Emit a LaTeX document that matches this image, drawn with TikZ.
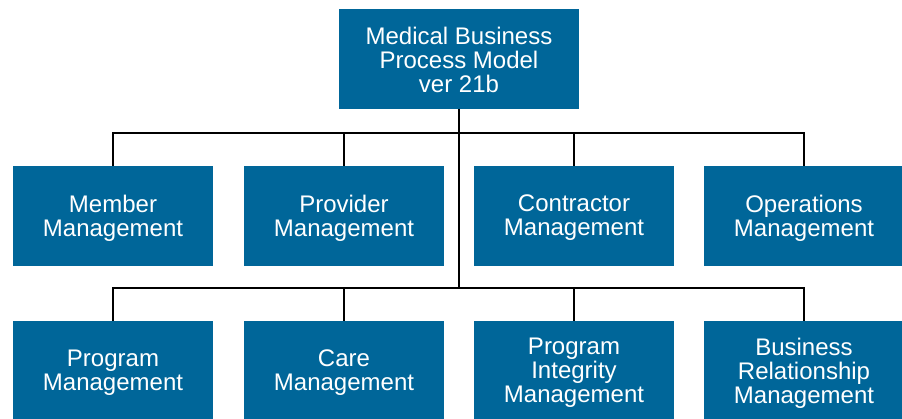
\documentclass[tikz,border=0pt]{standalone}
\usepackage{fontspec}
\setmainfont{Liberation Sans}
\definecolor{boxblue}{RGB}{0,102,153}
\begin{document}
\begin{tikzpicture}[x=1pt,y=-1pt,
  bx/.style={fill=boxblue,draw=none,inner sep=0pt,
    minimum width=200pt,minimum height=100pt},
  lbl/.style={text=white,align=center,inner sep=0pt,yshift=-2pt,
    font=\fontsize{24}{24}\selectfont},
  conn/.style={draw=black,line width=1.8pt}]
\useasboundingbox (0,0) rectangle (902,419);
\clip (0,0) rectangle (902,419);
\node[bx,minimum width=240pt,label={[lbl,yshift=1pt]center:Medical Business\\Process Model\\ver 21b}] (top) at (459,59) {};
\node[bx,label={[lbl]center:Member\\Management}] (a1) at (113,216) {};
\node[bx,label={[lbl]center:Provider\\Management}] (a2) at (344,216) {};
\node[bx,label={[lbl]center:Contractor\\Management}] (a3) at (574,216) {};
\node[bx,label={[lbl]center:Operations\\Management}] (a4) at (804,216) {};
\node[bx,label={[lbl]center:Program\\Management}] (c1) at (113,371) {};
\node[bx,label={[lbl]center:Care\\Management}] (c2) at (344,371) {};
\node[bx,label={[lbl]center:Program\\Integrity\\Management}] (c3) at (574,371) {};
\node[bx,label={[lbl]center:Business\\Relationship\\Management}] (c4) at (804,371) {};
\coordinate (b1) at (459,133);
\coordinate (b2) at (459,288);
\draw[conn] (top.south) -- (b2);
\draw[conn] (a1.north) |- (b1) -| (a4.north);
\draw[conn] (a2.north) -- (a2.north |- b1);
\draw[conn] (a3.north) -- (a3.north |- b1);
\draw[conn] (c1.north) |- (b2) -| (c4.north);
\draw[conn] (c2.north) -- (c2.north |- b2);
\draw[conn] (c3.north) -- (c3.north |- b2);
\end{tikzpicture}
\end{document}
